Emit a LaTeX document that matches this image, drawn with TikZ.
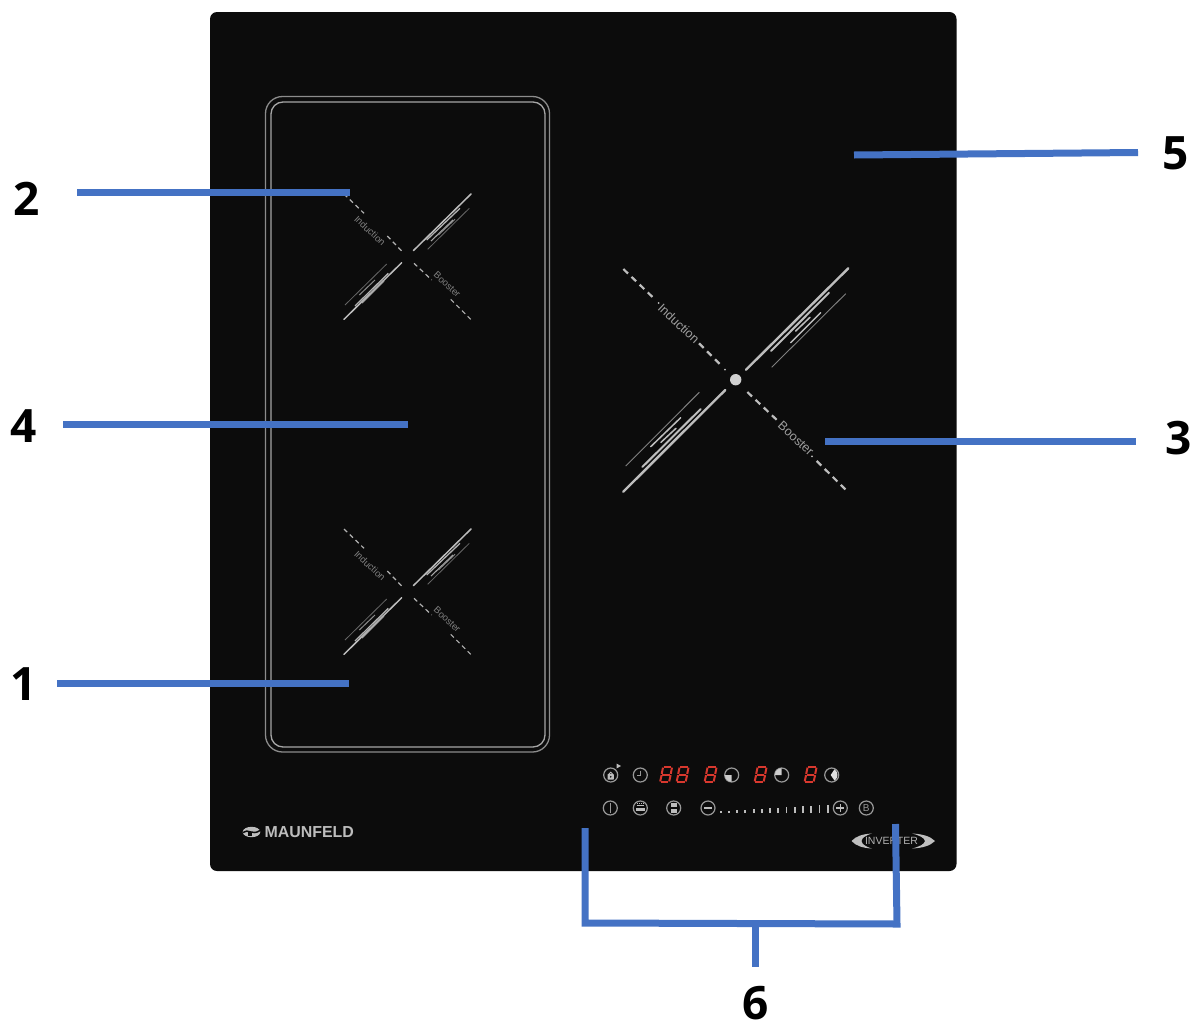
\documentclass[tikz,border=0pt]{standalone}
\usepackage{fontspec}
\setmainfont{Liberation Sans}
\newfontfamily\labelfont{Open Sans}
\definecolor{panelblack}{HTML}{0C0C0C}
\definecolor{callout}{HTML}{4472C4}
\definecolor{ledred}{HTML}{D8382E}
\definecolor{iconline}{HTML}{989898}
\definecolor{markgrey}{HTML}{BDBDBD}
\tikzset{
  calloutline/.style={draw=callout,line width=7pt},
  calloutnum/.style={font=\labelfont\bfseries\fontsize{46}{46}\selectfont,text=black,inner sep=0pt},
  zoneline/.style={draw=#1,line width=1.3pt},
  mainbar/.style={draw=markgrey,line width=#1,line cap=round},
  dashbar/.style={draw=markgrey,line width=#1},
  smalldash/.style={draw=black!30!white,line width=1.2pt,dash pattern=on 4.5pt off 3.5pt},
  bigdash/.style={draw=markgrey,line width=2.2pt,dash pattern=on 6.5pt off 4.8pt},
  bigtxt/.style={font=\fontsize{12.6}{12.6}\selectfont,text=black!38!white,rotate=-43,inner sep=0pt},
  smalltxt/.style={font=\fontsize{9.5}{9.5}\selectfont,text=black!50!white,rotate=-43,inner sep=0pt},
  iconring/.style={draw=iconline,line width=1.2pt,fill=panelblack,circle,minimum size=14pt,inner sep=0pt},
  segment/.style={draw=ledred,line width=2pt},
  tickmark/.style={draw=markgrey,line width=1.8pt}
}
\newcommand{\ledeight}[1]{%
  \begin{scope}[shift={(#1,766)}]
    \draw[segment] (4.6,1) -- (12.4,1);
    \draw[segment] (3.1,8.5) -- (10.9,8.5);
    \draw[segment] (1.6,16) -- (9.4,16);
    \draw[segment] (4,1.6) -- (2.7,7.9);
    \draw[segment] (13,1.6) -- (11.7,7.9);
    \draw[segment] (2.6,9.1) -- (1.2,15.4);
    \draw[segment] (11.6,9.1) -- (10.2,15.4);
  \end{scope}}
\begin{document}
\begin{tikzpicture}[x=1pt,y=-1pt]
\useasboundingbox (0,0) rectangle (1191,1020);
\fill[white] (0,0) rectangle (1191,1020);
\fill[panelblack,rounded corners=7pt] (210,12) rectangle (956.5,871);
% cooking zone outline
\draw[zoneline=black!45!white,rounded corners=17pt] (265.5,96.5) rectangle (549.5,752);
\draw[zoneline=black!35!white,rounded corners=12pt] (271,102) rectangle (545,747);
% two small crosses
\foreach \dy/\nm in {0/a,335/b}{
\begin{scope}[shift={(0,\dy)}]
  \draw[mainbar=1.5pt] (413.3,250.7) -- (471,194);
  \draw[mainbar=1.5pt] (401.7,262.7) -- (344,319.3);
  \draw[draw=black!30!white,line width=1.3pt] (426.7,240) -- (460,208.3);
  \draw[draw=black!35!white,line width=1.1pt] (431,241) -- (453,220);
  \draw[draw=black!45!white,line width=1pt] (438.3,235) -- (455,219.3);
  \draw[draw=black!60!white,line width=.8pt] (427.7,249.3) -- (469.3,208.3);
  \draw[draw=black!30!white,line width=1.3pt] (355,306) -- (388.3,273.3);
  \draw[draw=black!35!white,line width=1.1pt] (362,303) -- (384,281);
  \draw[draw=black!45!white,line width=1pt] (359.3,295) -- (375,280);
  \draw[draw=black!60!white,line width=.8pt] (345,305) -- (386.7,264);
  \draw[smalldash] (344,194) -- (364,213.3);
  \draw[smalldash] (387.3,236) -- (401.7,251);
  \draw[smalldash] (414,263.3) -- (431.7,280);
  \draw[smalldash] (450.7,299.3) -- (470.7,319.3);
  \node[smalltxt] (ind\nm) at (370,230.7) {Induction};
  \node[smalltxt] (boo\nm) at (447.2,284.5) {Booster};
\end{scope}}
% big cross
\fill[black!18!white] (735.7,379.7) circle (5.7);
\draw[mainbar=2.4pt] (746,369.7) -- (848.3,268.3);
\draw[mainbar=2.4pt] (725.3,390) -- (623.3,491.7);
\draw[mainbar=2pt] (771,351) -- (829,292.7);
\draw[mainbar=1.5pt] (795.7,331) -- (810,317.3);
\draw[mainbar=1.5pt] (790.7,342.7) -- (820.7,312.7);
\draw[draw=black!50!white,line width=.9pt] (771.7,367.3) -- (845.7,293.7);
\draw[mainbar=2pt] (642.3,467) -- (700.7,409);
\draw[mainbar=1.5pt] (661,442.3) -- (676,428.3);
\draw[mainbar=1.5pt] (650.7,446.7) -- (680.7,417.7);
\draw[draw=black!50!white,line width=.9pt] (625.7,466) -- (699.3,392.3);
\draw[bigdash] (623.3,269) -- (654.3,298.7);
\fill[markgrey] (658.7,303) circle (1);
\draw[bigdash] (699,343.3) -- (720.7,365);
\fill[markgrey] (725,369.7) circle (1);
\draw[bigdash] (747.3,392) -- (778.7,421.7);
\fill[markgrey] (812,456.3) circle (1);
\draw[bigdash] (816.7,461) -- (847.3,491.3);
\node[bigtxt] (indbig) at (678.8,323.5) {Induction};
\node[bigtxt] (boobig) at (796,438.5) {Booster};
% control panel, upper row
\node[iconring] (lock) at (610.7,775) {};
\fill[markgrey,rounded corners=.5pt] (607.5,774.2) rectangle (613.9,779.5);
\fill[panelblack] (610.7,776.8) circle (.9);
\draw[markgrey,line width=.9pt] (608.8,774.2) arc[start angle=180,end angle=360,radius=1.9];
\fill[markgrey] (616.5,763.5) -- (621,766) -- (616.5,768.5) -- cycle;
\node[iconring] (clock) at (640.3,775) {};
\draw[iconline,line width=.7pt] (640.3,770.5) -- (640.3,775) -- (636.5,775);
\ledeight{659}\ledeight{675.5}\ledeight{703.5}
\node[iconring] (zonea) at (731.7,775) {};
\fill[black!20!white] (731.7,775) -- (731.7,781.8) arc[start angle=90,end angle=180,radius=6.8] -- cycle;
\ledeight{753.5}
\node[iconring] (zoneb) at (781.7,775) {};
\fill[black!20!white] (781.7,775) -- (774.9,775) arc[start angle=180,end angle=270,radius=6.8] -- cycle;
\ledeight{803.5}
\node[iconring] (zonec) at (831.7,775) {};
\fill[black!12!white] (830.7,775) -- (834.5,769.3) arc[start angle=-56,end angle=56,radius=6.8] -- cycle;
% control panel, lower row
\node[iconring] (power) at (610.3,808) {};
\draw[iconline,line width=1.2pt] (610.3,803) -- (610.3,813);
\node[iconring] (pot) at (640.3,808) {};
\fill[markgrey] (635.5,807.5) rectangle (645,811);
\draw[markgrey,line width=.8pt] (636.5,805.5) -- (644,805.5);
\draw[markgrey,line width=.8pt,dash pattern=on 1pt off 1pt] (637,803.5) -- (644,803.5);
\node[iconring] (pause) at (673.7,808) {};
\fill[markgrey] (670.7,803) rectangle (676.7,807.3);
\fill[markgrey] (670.7,808.7) rectangle (676.7,813);
\node[iconring] (minus) at (708,808) {};
\draw[markgrey,line width=1.3pt] (704,808) -- (712,808);
\foreach \i in {0,...,13}{
  \pgfmathsetmacro{\tx}{720.7+\i*8.23}
  \pgfmathsetmacro{\ty}{813-2-\i*0.48}
  \draw[tickmark] (\tx,813) -- (\tx,\ty);
}
\node[iconring] (plus) at (840.3,808) {};
\draw[markgrey,line width=1.3pt] (836.3,808) -- (844.3,808);
\draw[markgrey,line width=1.3pt] (840.3,804) -- (840.3,812);
\node[iconring,text=iconline,font=\fontsize{10}{10}\selectfont] (boost) at (866.3,808) {B};
% MAUNFELD logo
\fill[markgrey] (251.5,832) ellipse (8.8 and 5.2);
\draw[panelblack,line width=1.5pt] (243,832.5) .. controls (248,828) and (252,836) .. (260,830.5);
\fill[panelblack] (248,832) rectangle (252,835.5);
\node[font=\bfseries\fontsize{15.9}{15.9}\selectfont,text=markgrey,inner sep=0pt,anchor=west] (brand) at (264.5,831.7) {MAUNFELD};
% INVERTER badge
\fill[black!25!white] (851.5,841) .. controls (856,836) and (863,834) .. (872,833.5)
  .. controls (865,835.5) and (862,838) .. (861.5,841) .. controls (862,844) and (865,846.5) .. (872,848.5)
  .. controls (863,848) and (856,846) .. (851.5,841) -- cycle;
\fill[black!25!white] (935,841) .. controls (930,836) and (922,834) .. (912,833.5)
  .. controls (920,835.5) and (924.5,838) .. (925,841) .. controls (924.5,844) and (920,846.5) .. (912,848.5)
  .. controls (922,848) and (930,846) .. (935,841) -- cycle;
\node[font=\fontsize{10.5}{10.5}\selectfont,text=black!30!white,inner sep=0pt] (inverter) at (891.5,841) {INVERTER};
% callouts
\coordinate (c1a) at (57,683); \coordinate (c1b) at (349,683);
\coordinate (c2a) at (77,192.5); \coordinate (c2b) at (350,192.5);
\coordinate (c4a) at (63,424); \coordinate (c4b) at (408,424);
\coordinate (c5a) at (854,155); \coordinate (c5b) at (1138,152.5);
\coordinate (c3a) at (825,441); \coordinate (c3b) at (1136,441);
\coordinate (b1) at (585,828); \coordinate (b2) at (585,923); \coordinate (b3) at (897,924); \coordinate (b4) at (895.5,824);
\coordinate (s1) at (755,924); \coordinate (s2) at (755,967);
\draw[calloutline] (c1a) -- (c1b);
\draw[calloutline] (c2a) -- (c2b);
\draw[calloutline] (c4a) -- (c4b);
\draw[calloutline] (c5a) -- (c5b);
\draw[calloutline] (c3a) -- (c3b);
\draw[calloutline,line join=miter] (b1) -- (b2) -- (b3) -- (b4);
\draw[calloutline] (s1) -- (s2);
\node[calloutnum] (n1) at (24,684) {1};
\node[calloutnum] (n2) at (26.5,199) {2};
\node[calloutnum] (n3) at (1179,438) {3};
\node[calloutnum] (n4) at (24,426) {4};
\node[calloutnum] (n5) at (1176,153) {5};
\node[calloutnum] (n6) at (755.5,1003) {6};
\end{tikzpicture}
\end{document}
